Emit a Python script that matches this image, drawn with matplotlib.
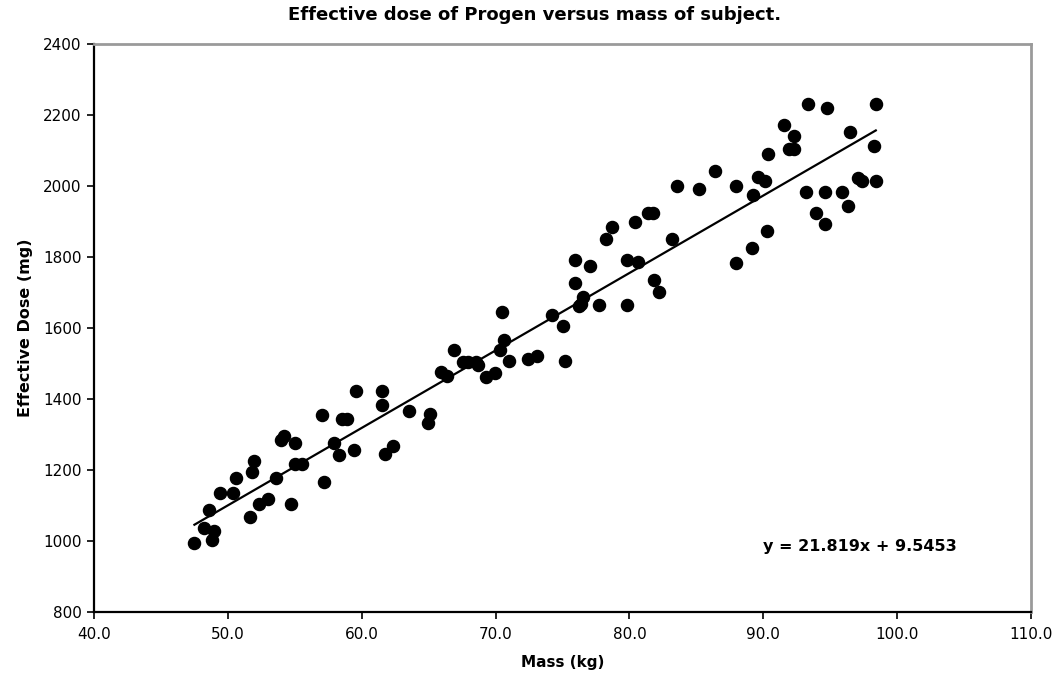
import matplotlib
matplotlib.use("Agg")
import matplotlib.pyplot as plt
from matplotlib.ticker import FormatStrFormatter

# mass of subject (kg)
mass = [47.5, 48.2, 48.8, 49.0, 48.6, 49.4, 50.4, 50.6, 51.8, 51.95,
        51.65, 52.3, 53.0, 53.6, 54.0, 54.2, 55.0, 54.7, 55.0, 55.5,
        57.0, 57.2, 57.9, 58.3, 58.55, 58.9, 59.45, 59.6, 61.5, 61.5,
        61.74, 62.36, 63.5, 64.97, 65.1, 65.9, 66.4, 66.9, 67.6, 67.96,
        68.5, 68.7, 69.3, 69.96, 70.46, 70.6, 70.35, 71.0, 72.45, 73.1,
        74.2, 75.0, 75.2, 75.9, 75.9, 76.4, 76.55, 76.2, 77.05, 77.7,
        78.25, 78.7, 79.8, 79.8, 80.4, 80.65, 81.36, 81.73, 81.86, 82.2,
        83.15, 83.55, 85.2, 86.4, 87.96, 87.96, 89.13, 89.25, 89.63, 90.13,
        90.25, 90.33, 91.57, 92.3, 91.94, 92.29, 93.3, 93.19, 93.94, 94.73,
        94.61, 94.61, 95.86, 96.35, 96.48, 97.05, 97.4, 98.4, 98.27, 98.4]

# effective dose (mg)
dose = [995, 1036, 1004, 1028, 1088, 1136, 1135, 1178, 1194, 1226,
        1068, 1105, 1117, 1177, 1285, 1295, 1276, 1104, 1216, 1216,
        1356, 1167, 1276, 1243, 1344, 1344, 1257, 1423, 1424, 1384,
        1245, 1269, 1365, 1332, 1357, 1475, 1465, 1537, 1503, 1503,
        1505, 1495, 1463, 1473, 1645, 1566, 1537, 1507, 1514, 1521,
        1637, 1606, 1506, 1726, 1793, 1667, 1687, 1662, 1776, 1664,
        1851, 1884, 1664, 1793, 1900, 1785, 1924, 1924, 1735, 1702,
        1852, 2000, 1992, 2041, 2001, 1784, 1826, 1976, 2024, 2013,
        1874, 2090, 2172, 2141, 2105, 2105, 2230, 1983, 1924, 2221,
        1983, 1893, 1983, 1943, 2153, 2022, 2013, 2230, 2113, 2013]

slope = 21.819
intercept = 9.5453

x_ticks = [40, 50, 60, 70, 80, 90, 100, 110]
y_ticks = [800, 1000, 1200, 1400, 1600, 1800, 2000, 2200, 2400]

fig = plt.figure(figsize=(10.6, 6.73), dpi=100)
ax = fig.add_axes([0.0887, 0.0906, 0.8840, 0.8440])

ax.plot(mass, dose, 'o', color='black', markersize=8.7, zorder=3)

# trendline over the range of the data
x_fit = [min(mass), max(mass)]
y_fit = [slope * x + intercept for x in x_fit]
ax.plot(x_fit, y_fit, color='black', linewidth=1.6, zorder=2)

ax.set_xlim(40, 110)
ax.set_ylim(800, 2400)
ax.set_xticks(x_ticks)
ax.set_yticks(y_ticks)
ax.xaxis.set_major_formatter(FormatStrFormatter('%.1f'))

ax.tick_params(direction='out', length=5, width=1.2, labelsize=11, colors='black')
ax.tick_params(axis='x', pad=6)
ax.tick_params(axis='y', pad=4)

for side in ['left', 'bottom']:
    ax.spines[side].set_color('black')
    ax.spines[side].set_linewidth(1.6)
for side in ['top', 'right']:
    ax.spines[side].set_color('#9a9a9a')
    ax.spines[side].set_linewidth(2.0)

ax.set_xlabel('Mass (kg)', fontsize=11, fontweight='bold', labelpad=9)
ax.set_ylabel('Effective Dose (mg)', fontsize=11.5, fontweight='bold', labelpad=7)

fig.text(0.504, 0.977, 'Effective dose of Progen versus mass of subject.',
         ha='center', va='center', fontsize=13, fontweight='bold')

ax.text(90.0, 985, 'y = 21.819x + 9.5453', ha='left', va='center',
        fontsize=11.5, fontweight='bold')

fig.savefig('out.png', dpi=100)
